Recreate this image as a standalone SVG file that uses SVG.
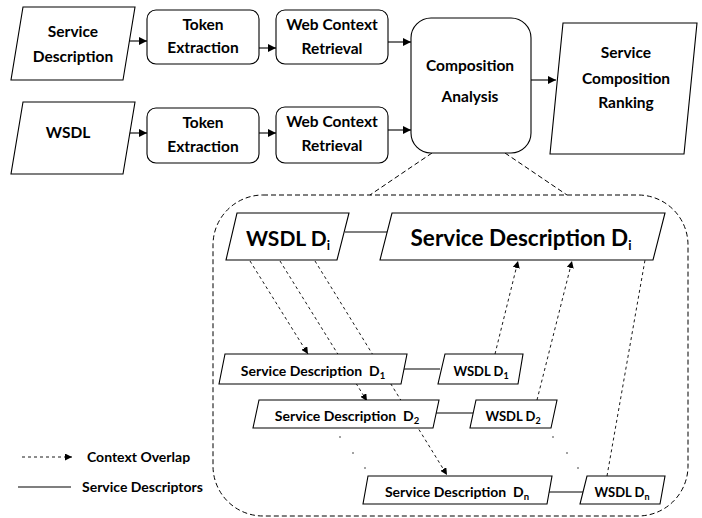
<svg xmlns="http://www.w3.org/2000/svg" width="702" height="518" viewBox="0 0 702 518">
<style>
.t{font-family:Lato,"Open Sans","Liberation Sans",sans-serif;font-weight:bold;text-anchor:middle;fill:#000}
.m{font-size:15.5px}
.s{fill:#fff;stroke:#000;stroke-width:1.1}
.c{stroke:#000;stroke-width:1.1;fill:none}
.d{stroke:#000;stroke-width:0.9;fill:none;stroke-dasharray:3,3}
.cd{stroke:#000;stroke-width:1;fill:none;stroke-dasharray:5,3}
.dot{fill:#000}
</style>
<defs>
<marker id="ah" viewBox="0 0 10 10" refX="10" refY="5" markerWidth="8" markerHeight="8" markerUnits="userSpaceOnUse" orient="auto">
<path d="M0,0 L10,5 L0,10 z" fill="#000"/>
</marker>
<marker id="ahs" viewBox="0 0 10 10" refX="10" refY="5" markerWidth="7" markerHeight="7" markerUnits="userSpaceOnUse" orient="auto">
<path d="M0,0 L10,5 L0,10 z" fill="#000"/>
</marker>
</defs>

<g id="connectors">
<line class="c" x1="128" y1="41" x2="147" y2="41" marker-end="url(#ah)"/>
<line class="c" x1="259" y1="48" x2="276" y2="48" marker-end="url(#ah)"/>
<line class="c" x1="388" y1="42" x2="411" y2="42" marker-end="url(#ah)"/>
<line class="c" x1="129" y1="133" x2="147" y2="133" marker-end="url(#ah)"/>
<line class="c" x1="259" y1="133" x2="276" y2="133" marker-end="url(#ah)"/>
<line class="c" x1="388" y1="130" x2="411" y2="130" marker-end="url(#ah)"/>
<line class="c" x1="531" y1="80" x2="556" y2="80" marker-end="url(#ah)"/>
<line class="cd" x1="432" y1="153" x2="370" y2="195"/>
<line class="cd" x1="505" y1="153" x2="567" y2="195"/>
<line class="c" x1="345" y1="232" x2="388" y2="232"/>
<line class="c" x1="403" y1="369" x2="440" y2="369"/>
<line class="c" x1="435" y1="413" x2="473" y2="413"/>
<line class="c" x1="549" y1="492" x2="583" y2="492"/>
<line class="d" x1="250" y1="261" x2="308" y2="354" marker-end="url(#ahs)"/>
<line class="d" x1="280" y1="261" x2="367" y2="401" marker-end="url(#ahs)"/>
<line class="d" x1="315" y1="261" x2="447" y2="475" marker-end="url(#ahs)"/>
<line class="d" x1="495" y1="354" x2="518" y2="261" marker-end="url(#ahs)"/>
<line class="d" x1="537" y1="400" x2="572" y2="261" marker-end="url(#ahs)"/>
<line class="d" x1="607" y1="476" x2="645" y2="260"/>
</g>

<g id="container">
<rect class="cd" x="213" y="195" width="475" height="321" rx="50" ry="50"/>
</g>

<g id="n1">
<polygon class="s" points="23,7 135,7 123,80 11,80"/>
<text class="t m" x="73" y="37">Service</text>
<text class="t m" x="73" y="62">Description</text>
</g>
<g id="n2">
<rect class="s" x="147" y="10" width="112" height="54" rx="9"/>
<text class="t m" x="203" y="30">Token</text>
<text class="t m" x="203" y="53">Extraction</text>
</g>
<g id="n3">
<rect class="s" x="276" y="10" width="112" height="54" rx="9"/>
<text class="t m" x="332" y="30">Web Context</text>
<text class="t m" x="332" y="54">Retrieval</text>
</g>
<g id="n4">
<polygon class="s" points="23,102 135,102 123,174 11,174"/>
<text class="t m" x="68" y="138">WSDL</text>
</g>
<g id="n5">
<rect class="s" x="147" y="108" width="112" height="55" rx="9"/>
<text class="t m" x="203" y="128">Token</text>
<text class="t m" x="203" y="152">Extraction</text>
</g>
<g id="n6">
<rect class="s" x="276" y="107" width="112" height="56" rx="9"/>
<text class="t m" x="332" y="127">Web Context</text>
<text class="t m" x="332" y="151">Retrieval</text>
</g>
<g id="n7">
<rect class="s" x="411" y="18" width="120" height="135" rx="20"/>
<text class="t m" x="470" y="71">Composition</text>
<text class="t m" x="470" y="102">Analysis</text>
</g>
<g id="n8">
<polygon class="s" points="563,23 697,23 684,154 550,154"/>
<text class="t m" x="626" y="58">Service</text>
<text class="t m" x="626" y="84">Composition</text>
<text class="t m" x="626" y="108">Ranking</text>
</g>

<g id="wsdl-di">
<polygon class="s" points="237,213 349,213 337,260 226,260"/>
<text class="t" font-size="21" x="288" y="246">WSDL D<tspan font-size="13" dy="4">i</tspan></text>
</g>
<g id="sd-di">
<polygon class="s" points="392,213 665,213 653,260 380,260"/>
<text class="t" font-size="22.5" x="521" y="246">Service Description D<tspan font-size="13" dy="4">i</tspan></text>
</g>
<g id="sd-d1">
<polygon class="s" points="225,354 407,354 401,384 219,384"/>
<text class="t" font-size="14" x="313" y="376" xml:space="preserve">Service Description  D<tspan font-size="9.5" dy="3">1</tspan></text>
</g>
<g id="wsdl-d1">
<polygon class="s" points="445,354 523,354 518,384 438,384"/>
<text class="t" font-size="13" x="481" y="376">WSDL D<tspan font-size="9" dy="3">1</tspan></text>
</g>
<g id="sd-d2">
<polygon class="s" points="259,400 439,400 433,428 253,428"/>
<text class="t" font-size="14" x="347" y="421" xml:space="preserve">Service Description  D<tspan font-size="9.5" dy="3">2</tspan></text>
</g>
<g id="wsdl-d2">
<polygon class="s" points="476,400 557,400 551,428 470,428"/>
<text class="t" font-size="13" x="513" y="421">WSDL D<tspan font-size="9" dy="3">2</tspan></text>
</g>
<g id="sd-dn">
<polygon class="s" points="368,476 552,476 547,504 363,504"/>
<text class="t" font-size="14" x="457" y="497" xml:space="preserve">Service Description  D<tspan font-size="9.5" dy="3">n</tspan></text>
</g>
<g id="wsdl-dn">
<polygon class="s" points="587,476 665,476 660,504 580,504"/>
<text class="t" font-size="13" x="622" y="497">WSDL D<tspan font-size="9" dy="3">n</tspan></text>
</g>

<g id="dots">
<circle class="dot" cx="340" cy="437" r="0.7"/>
<circle class="dot" cx="353" cy="453" r="0.7"/>
<circle class="dot" cx="365" cy="468" r="0.7"/>
<circle class="dot" cx="553" cy="437" r="0.7"/>
<circle class="dot" cx="567" cy="453" r="0.7"/>
<circle class="dot" cx="578" cy="468" r="0.7"/>
</g>

<g id="legend">
<line class="d" x1="22" y1="457" x2="72" y2="457" marker-end="url(#ahs)"/>
<text class="t" font-size="14" x="87" y="462" style="text-anchor:start">Context Overlap</text>
<line class="c" x1="18" y1="487" x2="71" y2="487"/>
<text class="t" font-size="14" x="82" y="492" style="text-anchor:start">Service Descriptors</text>
</g>
</svg>
